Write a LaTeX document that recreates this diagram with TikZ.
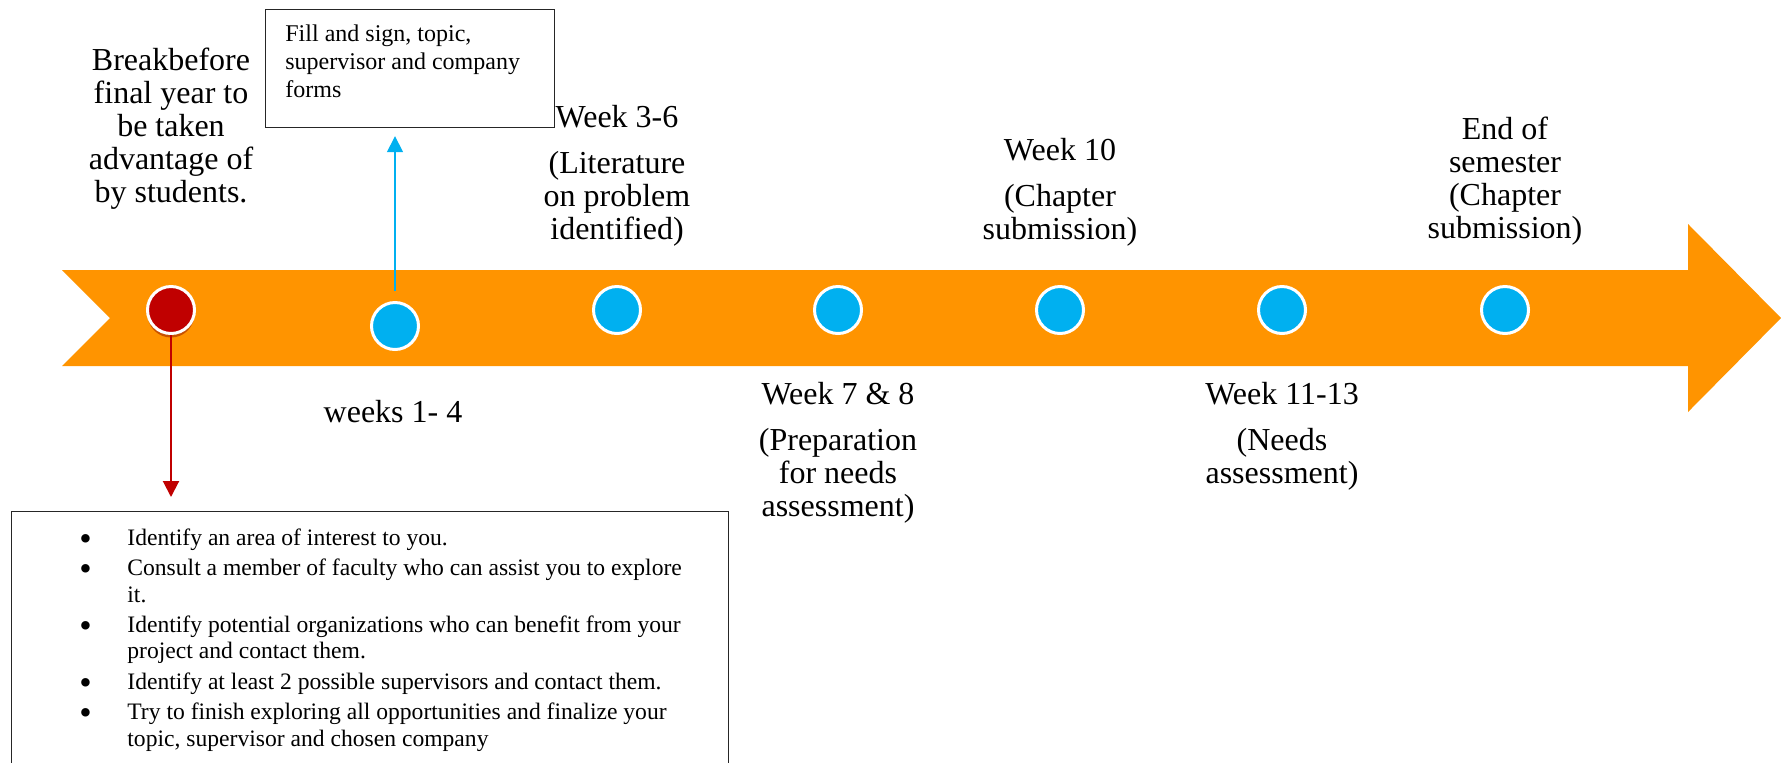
\documentclass[tikz,border=0pt]{standalone}
\usepackage{fontspec}
\setmainfont{Liberation Serif}
\usepackage{xcolor}
\usepackage{tikz}
\usetikzlibrary{arrows.meta,shadows}
\definecolor{band}{HTML}{FF9400}
\definecolor{dot}{HTML}{00B0F0}
\definecolor{start}{HTML}{C00000}
\definecolor{edge}{HTML}{262626}
\newcommand{\bigbul}{\smash{\raisebox{-2.6pt}{\scalebox{1.5}{\textbullet}}}}

\tikzset{
  milestone/.style={circle, draw=white, line width=1.5pt, fill=dot, minimum size=23.5pt, inner sep=0pt},
  phase/.style={align=center, anchor=north, inner sep=0pt, font=\fontsize{16}{16.5}\selectfont},
  note/.style={draw=edge, line width=0.6pt, inner sep=0pt, anchor=north west},
  tip/.style={-{Triangle[width=8pt,length=8pt]}},
}

\begin{document}
\begin{tikzpicture}[x=0.5pt, y=-0.5pt]
        \useasboundingbox (0,0) rectangle (1781,762);
        % timeline band
        \fill[band] (62,270) -- (1688,270) -- (1688,224) -- (1781,318) -- (1688,412)
              -- (1688,366) -- (62,366) -- (110,318) -- cycle;
        % milestones
        \node[milestone, fill=start, drop shadow={shadow xshift=0pt, shadow yshift=-2pt, fill=start!70!black, opacity=0.45}] (m0) at (171,310) {};
        \node[milestone] (m1) at (395,326) {};
        \foreach \i/\x in {2/617, 3/838, 4/1060, 5/1282, 6/1505}
          \node[milestone] (m\i) at (\x,310) {};
        % labels above and below
        \node[phase] (brk) at (171,48) {Breakbefore\\final year to\\be taken\\advantage of\\by students.};
        \node[phase] (w36) at (617,105) {Week 3-6\\[6.5pt](Literature\\on problem\\identified)};
        \node[phase] (w10) at (1060,138) {Week 10\\[6.5pt](Chapter\\submission)};
        \node[phase] (wend) at (1505,117) {End of\\semester\\(Chapter\\submission)};
        \node[phase] (w14) at (393,400) {weeks 1- 4};
        \node[phase] (w78) at (838,382) {Week 7 \& 8\\[6.5pt](Preparation\\for needs\\assessment)};
        \node[phase] (w1113) at (1282,382) {Week 11-13\\[6.5pt](Needs\\assessment)};
        % forms box
        \node[note, minimum width=144.5pt, minimum height=59pt] (formbox) at (265,9) {};
        \node[anchor=north west, align=left, inner sep=0pt, font=\fontsize{12}{14}\selectfont] (formtext) at (285,24)
          {Fill and sign, topic,\\supervisor and company\\forms};
        % task list box
        \node[note, minimum width=358.5pt, minimum height=130pt] (listbox) at (11,511) {};
        \node[anchor=north west, inner sep=0pt, font=\fontsize{11.8}{13.2}\selectfont] (tasks) at (79,526.5) {%
          \begin{tabular}{@{}p{24pt}@{}l@{}}
          \bigbul & Identify an area of interest to you.\\[2pt]
          \bigbul & Consult a member of faculty who can assist you to explore\\
                  & it.\\[2pt]
          \bigbul & Identify potential organizations who can benefit from your\\
                  & project and contact them.\\[2pt]
          \bigbul & Identify at least 2 possible supervisors and contact them.\\[2pt]
          \bigbul & Try to finish exploring all opportunities and finalize your\\
                  & topic, supervisor and chosen company
          \end{tabular}};
        % connectors
        \draw[start, line width=1pt, tip] (m0.south) -- ([yshift=7pt]m0 |- listbox.north);
        \draw[dot, line width=0.8pt, tip] ([yshift=5pt]m1.north) -- ([yshift=-4pt]m1 |- formbox.south);
      \end{tikzpicture}
\end{document}
